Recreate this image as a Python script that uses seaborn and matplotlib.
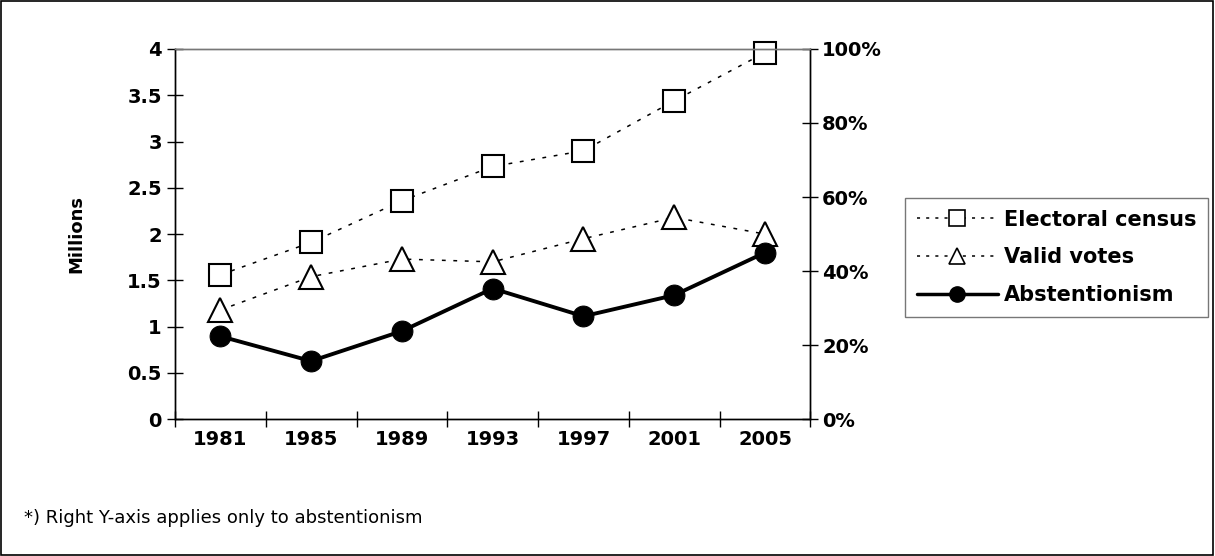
import pandas as pd
import matplotlib.pyplot as plt
import seaborn as sns
from matplotlib.lines import Line2D
from matplotlib.patches import Rectangle

# Data
years = ['1981', '1985', '1989', '1993', '1997', '2001', '2005']
census = [1.56, 1.91, 2.36, 2.73, 2.90, 3.44, 3.96]          # millions
valid_votes = [1.18, 1.54, 1.73, 1.70, 1.95, 2.18, 2.00]     # millions
abstention = [22.4, 15.7, 23.8, 35.3, 27.8, 33.5, 45.0]      # percent

df = pd.DataFrame({'Year': years, 'Census': census,
                   'Valid': valid_votes, 'Abst': abstention})

sns.set_style('white')
plt.rcParams['font.family'] = ['DejaVu Sans']
plt.rcParams['text.color'] = 'black'
plt.rcParams['axes.labelcolor'] = 'black'
plt.rcParams['xtick.color'] = 'black'
plt.rcParams['ytick.color'] = 'black'

fig = plt.figure(figsize=(12.15, 5.56), dpi=100)
ax = fig.add_axes([0.144, 0.246, 0.523, 0.666])
ax2 = ax.twinx()

dots = (0, (2.5, 5))
sns.lineplot(data=df, x='Year', y='Census', ax=ax, color='black', lw=1.1,
             linestyle=dots, marker='s', markersize=16, markerfacecolor='white',
             markeredgecolor='black', markeredgewidth=1.5, sort=False,
             clip_on=False)
sns.lineplot(data=df, x='Year', y='Valid', ax=ax, color='black', lw=1.1,
             linestyle=dots, marker='^', markersize=17, markerfacecolor='white',
             markeredgecolor='black', markeredgewidth=1.5, sort=False,
             clip_on=False)
sns.lineplot(data=df, x='Year', y='Abst', ax=ax2, color='black', lw=2.8,
             marker='o', markersize=15, markerfacecolor='black',
             markeredgecolor='black', sort=False, clip_on=False)

ax.set_xlim(-0.5, len(years) - 0.5)
ax.set_ylim(0, 4)
ax2.set_ylim(0, 100)
ax.set_yticks([0, 0.5, 1, 1.5, 2, 2.5, 3, 3.5, 4])
ax.set_yticklabels(['0', '0.5', '1', '1.5', '2', '2.5', '3', '3.5', '4'])
ax2.set_yticks(range(0, 101, 20))
ax2.set_yticklabels([f'{v}%' for v in range(0, 101, 20)])

ax.set_xticks(range(len(years)))
ax.set_xticklabels(years)
ax.set_xticks([i - 0.5 for i in range(len(years) + 1)], minor=True)
ax.tick_params(axis='x', which='major', bottom=True, length=0, pad=8)
ax.tick_params(axis='x', which='minor', bottom=True, length=12,
               direction='inout', width=1, color='black')
ax.tick_params(axis='y', left=True, length=11, direction='inout', width=1, pad=4)
ax2.tick_params(axis='y', right=True, length=11, direction='inout', width=1, pad=3)

for a in (ax, ax2):
    for lab in a.get_xticklabels() + a.get_yticklabels():
        lab.set_fontsize(14)
        lab.set_fontweight('bold')
        lab.set_color('black')
    for s in a.spines.values():
        s.set_color('black')
        s.set_linewidth(1)
    a.set_xlabel('')
    a.set_ylabel('')
ax.spines['top'].set_color('#777777')
ax2.spines['top'].set_color('#777777')

ax.set_ylabel('Millions', fontsize=13, fontweight='bold', labelpad=30,
              color='black')

handles = [
    Line2D([], [], color='black', lw=1.1, linestyle=(0, (2, 4)), marker='s',
           markersize=11, markerfacecolor='white', markeredgewidth=1.2),
    Line2D([], [], color='black', lw=1.1, linestyle=(0, (2, 4)), marker='^',
           markersize=12, markerfacecolor='white', markeredgewidth=1.2),
    Line2D([], [], color='black', lw=2.5, marker='o', markersize=11),
]
leg = fig.legend(handles, ['Electoral census', 'Valid votes', 'Abstentionism'],
                 loc='center left', bbox_to_anchor=(0.745, 0.537),
                 prop={'size': 15, 'weight': 'bold'}, frameon=True,
                 fancybox=False, edgecolor='#555555', handlelength=3.9,
                 handletextpad=0.3, borderpad=0.55, labelspacing=0.85,
                 borderaxespad=0)
leg.get_frame().set_linewidth(1)
for t in leg.get_texts():
    t.set_color('black')

fig.text(0.02, 0.06, '*) Right Y-axis applies only to abstentionism',
         fontsize=13, color='black')

fig.patches.append(Rectangle((0.001, 0.002), 0.997, 0.996, fill=False,
                             edgecolor='black', lw=1.2,
                             transform=fig.transFigure, figure=fig))

fig.savefig('out.png', dpi=100)
